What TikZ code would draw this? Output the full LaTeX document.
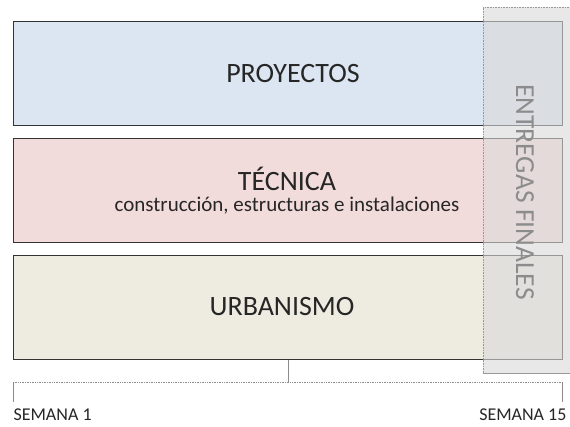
\documentclass[tikz,border=0pt]{standalone}
\usepackage{fontspec}
\setmainfont{Carlito}
\begin{document}
\begin{tikzpicture}[x=1pt,y=-1pt,
  band/.style={draw=black!80, line width=0.8pt, minimum width=549pt, minimum height=104pt, anchor=north west, inner sep=0pt},
  title/.style={font=\fontsize{28}{30}\selectfont, text=black!85},
  brk/.style={draw=black!45, line width=0.7pt},
  wk/.style={font=\fontsize{18}{20}\selectfont, text=black!85}]
\useasboundingbox (0,0) rectangle (570,427);
\node[band, fill={rgb,255:red,220;green,230;blue,242}] (proy) at (13,21) {};
\node[band, fill={rgb,255:red,242;green,220;blue,219}] (tec) at (13,138) {};
\node[band, fill={rgb,255:red,238;green,236;blue,225}] (urb) at (13,255) {};
\node[title] (tproy) at (293,74) {PROYECTOS};
\node[title] (ttec) at (287,179) {TÉCNICA};
\node[font=\fontsize{21}{23}\selectfont, text=black!85] (stec) at (287,206) {construcción, estructuras e instalaciones};
\node[title] (turb) at (282,307) {URBANISMO};
% overlay
\fill[black!15, opacity=0.6] (483,7) rectangle (572,373);
\draw[black!40, densely dotted, line width=0.6pt] (483,373) -- (483,7) -- (572,7);
\draw[black!40, line width=0.6pt] (483,373) -- (572,373);
\node[rotate=-90, font=\fontsize{27.5}{29}\selectfont, text=black!45] (ent) at (525,192) {ENTREGAS FINALES};
% bracket
\coordinate (bl) at (13,382);
\coordinate (br) at (562,382);
\coordinate (bm) at (288,382);
\draw[brk] (urb.south -| bm) -- (bm);
\draw[brk, densely dotted] (bl) -- (br);
\draw[brk] (bl) -- ++(0,20);
\draw[brk] (br) -- ++(0,20);
\node[wk, anchor=west] (s1) at (10,415) {SEMANA 1};
\node[wk, anchor=east] (s15) at (570,415) {SEMANA 15};
\end{tikzpicture}
\end{document}
